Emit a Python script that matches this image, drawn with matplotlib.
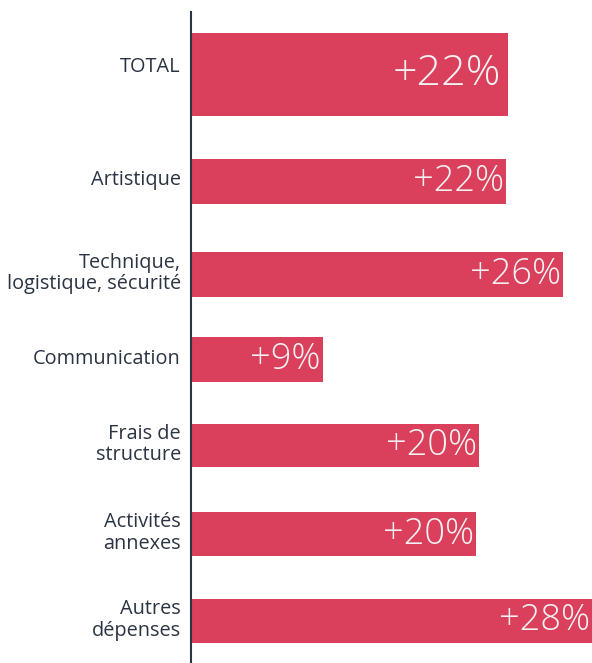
import matplotlib
matplotlib.use("Agg")
import matplotlib.pyplot as plt

plt.rcParams['font.family'] = ['Open Sans', 'DejaVu Sans']

categories = ["TOTAL", "Artistique", "Technique,\nlogistique, sécurité", "Communication",
              "Frais de\nstructure", "Activités\nannexes", "Autres\ndépenses"]
values = [22.1, 22.0, 26.0, 9.2, 20.1, 19.9, 28.0]
value_labels = ["+22%", "+22%", "+26%", "+9%", "+20%", "+20%", "+28%"]

# layout (pixel-like data units on the y axis)
positions = [74.5, 181.5, 274.5, 359.5, 445.5, 534, 621]
heights = [83, 45, 45, 45, 43, 44, 44]
bar_color = "#DA405C"
text_color = "#2B3442"

W, H = 592, 663
fig = plt.figure(figsize=(W / 100, H / 100), dpi=100)
ax = fig.add_axes([191 / W, 0, 401 / W, (H - 12) / H])
ax.set_xlim(0, 28.0)
ax.set_ylim(H, 12)

ax.barh(positions, values, height=heights, color=bar_color, zorder=1)

for i, (p, v, lab, cat) in enumerate(zip(positions, values, value_labels, categories)):
    big = i == 0
    ax.text(v - (0.45 if big else 0.15), p - (1 if big else 0), lab,
            ha='right', va='center', color='#F2F2F2', fontweight='light',
            fontsize=31 if big else 26, zorder=3)
    ax.text(-10 / 14.32, p - (8 if big else 1), cat, ha='right', va='center',
            color=text_color, fontsize=14.3, linespacing=1.12, clip_on=False)

for s in ['top', 'right', 'bottom']:
    ax.spines[s].set_visible(False)
ax.spines['left'].set_color(text_color)
ax.spines['left'].set_linewidth(1.5)
ax.spines['left'].set_zorder(4)
ax.set_xticks([])
ax.set_yticks([])
ax.patch.set_alpha(0)

fig.savefig("out.png", dpi=100)
